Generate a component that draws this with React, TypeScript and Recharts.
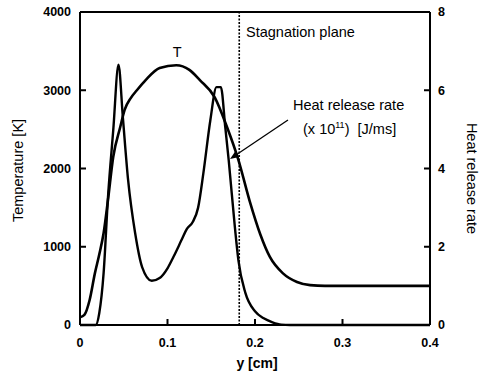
import { LineChart, Line, XAxis, YAxis, ReferenceLine, ReferenceDot } from 'recharts';

// position along the axis, y [cm]
const tempPos = [0, 0.005, 0.011, 0.017, 0.022, 0.027, 0.032, 0.038, 0.046, 0.051, 0.058, 0.065, 0.075, 0.091, 0.11, 0.125, 0.137, 0.154, 0.168, 0.181, 0.194, 0.206, 0.217, 0.232, 0.248, 0.263, 0.28, 0.3, 0.35, 0.4];
const temperature = [100, 130, 320, 660, 900, 1175, 1600, 2150, 2530, 2750, 2900, 3000, 3130, 3285, 3320, 3260, 3130, 2910, 2530, 2110, 1580, 1160, 870, 660, 550, 510, 500, 500, 500, 500];

const hrrPos = [0, 0.018, 0.022, 0.027, 0.032, 0.038, 0.044, 0.049, 0.055, 0.063, 0.071, 0.082, 0.091, 0.1, 0.107, 0.116, 0.122, 0.129, 0.135, 0.141, 0.149, 0.156, 0.161, 0.166, 0.17, 0.177, 0.181, 0.189, 0.2, 0.21, 0.22, 0.23, 0.24, 0.4];
const heatRelease = [0, 0, 0.3, 1.33, 3.27, 4.98, 6.65, 5.3, 3.7, 2.35, 1.48, 1.13, 1.2, 1.45, 1.75, 2.17, 2.45, 2.64, 3.0, 3.88, 5.24, 6.08, 6.08, 5.06, 4.2, 2.5, 1.66, 0.82, 0.35, 0.17, 0.07, 0.01, 0, 0];

const xTicks = [0, 0.1, 0.2, 0.3, 0.4];
const tempTicks = [0, 1000, 2000, 3000, 4000];
const hrrTicks = [0, 2, 4, 6, 8];

const stagnationPlane = 0.182;

const tempData = tempPos.map((x, i) => ({ x, v: temperature[i] }));
const hrrData = hrrPos.map((x, i) => ({ x, v: heatRelease[i] }));

const FONT = '"Liberation Sans", Arial, sans-serif';
const tickFont = { fontFamily: FONT, fontWeight: 'bold', fontSize: 12.5, fill: '#000' };
const axisLine = { stroke: '#000', strokeWidth: 2 };
const TICK_LEN = 6;

const BottomTick = (props: any) => {
  const { x, y, payload } = props;
  return (
    <text x={x} y={y + 18} textAnchor="middle" dominantBaseline="central" {...tickFont}>
      {payload.value}
    </text>
  );
};

// inward tick marks, drawn from the reference line geometry
// (left and right scales share tick rows: 1000 K <-> 2, 2000 K <-> 4, ...)
const sideTickMarks = (p: any) => {
  const xl = Math.min(p.x1, p.x2);
  const xr = Math.max(p.x1, p.x2);
  return (
    <g>
      <line x1={xl} x2={xl + TICK_LEN} y1={p.y1} y2={p.y1} stroke="#000" strokeWidth={2} />
      <line x1={xr - TICK_LEN} x2={xr} y1={p.y1} y2={p.y1} stroke="#000" strokeWidth={2} />
    </g>
  );
};
const bottomTickMark = (p: any) => {
  const yb = Math.max(p.y1, p.y2);
  return <line x1={p.x1} x2={p.x1} y1={yb} y2={yb - TICK_LEN} stroke="#000" strokeWidth={2} />;
};

const note = (content: React.ReactNode, anchor: 'start' | 'middle' = 'start') => (p: any) => (
  <text x={p.cx} y={p.cy} textAnchor={anchor} fontFamily={FONT} fontSize={14.5} fill="#000" xmlSpace="preserve">
    {content}
  </text>
);

const Arrow = (p: any) => {
  const { x1, y1, x2, y2 } = p;
  const ang = Math.atan2(y2 - y1, x2 - x1);
  const len = 9;
  const w = 3.5;
  const bx = x2 - len * Math.cos(ang);
  const by = y2 - len * Math.sin(ang);
  const nx = -Math.sin(ang) * w;
  const ny = Math.cos(ang) * w;
  return (
    <g>
      <line x1={x1} y1={y1} x2={bx} y2={by} stroke="#000" strokeWidth={1.3} />
      <polygon points={`${x2},${y2} ${bx + nx},${by + ny} ${bx - nx},${by - ny}`} fill="#000" />
    </g>
  );
};

export default function App() {
  return (
    <div style={{ position: 'absolute', left: 0, top: 0, background: '#fff' }}>
      <LineChart width={502} height={380} margin={{ top: 12, right: 0, bottom: 10, left: 0 }}>
        <XAxis
          type="number"
          dataKey="x"
          domain={[0, 0.4]}
          ticks={xTicks}
          height={45}
          tickSize={0}
          tickMargin={0}
          tickLine={false}
          tick={<BottomTick />}
          axisLine={axisLine}
          allowDuplicatedCategory={false}
          label={{
            content: ({ viewBox }: any) => (
              <text x={viewBox.x + viewBox.width / 2 + 2} y={viewBox.y + 38} textAnchor="middle" dominantBaseline="central" fontFamily={FONT} fontWeight="bold" fontSize={14} fill="#000">
                y [cm]
              </text>
            ),
          }}
        />
        <YAxis
          yAxisId="left"
          domain={[0, 4000]}
          ticks={tempTicks}
          width={80}
          tickSize={0}
          tickMargin={9}
          tickLine={false}
          tick={tickFont}
          axisLine={axisLine}
          label={{
            content: ({ viewBox }: any) => {
              const cx = viewBox.x + 18;
              const cy = viewBox.y + viewBox.height / 2 + 2;
              return (
                <text x={cx} y={cy} transform={`rotate(-90 ${cx} ${cy})`} textAnchor="middle" dominantBaseline="central" fontFamily={FONT} fontSize={14.5} fill="#000">
                  Temperature [K]
                </text>
              );
            },
          }}
        />
        <YAxis
          yAxisId="right"
          orientation="right"
          domain={[0, 8]}
          ticks={hrrTicks}
          width={72}
          tickSize={0}
          tickMargin={8}
          tickLine={false}
          tick={tickFont}
          axisLine={axisLine}
          label={{
            content: ({ viewBox }: any) => {
              const cx = viewBox.x + 42;
              const cy = viewBox.y + viewBox.height / 2 + 10;
              return (
                <text x={cx} y={cy} transform={`rotate(90 ${cx} ${cy})`} textAnchor="middle" dominantBaseline="central" fontFamily={FONT} fontSize={14.5} fill="#000">
                  Heat release rate
                </text>
              );
            },
          }}
        />
        <ReferenceLine yAxisId="left" y={4000} stroke="#000" strokeWidth={2} />
        {tempTicks.slice(1, -1).map((v) => (
          <ReferenceLine key={`st${v}`} yAxisId="left" y={v} shape={sideTickMarks} />
        ))}
        {xTicks.slice(1, -1).map((v) => (
          <ReferenceLine key={`bt${v}`} yAxisId="left" x={v} shape={bottomTickMark} />
        ))}
        <ReferenceLine yAxisId="left" x={stagnationPlane} stroke="#000" strokeWidth={1.6} strokeDasharray="2 1.5" />
        <Line
          yAxisId="left"
          data={tempData}
          dataKey="v"
          type="monotone"
          stroke="#000"
          strokeWidth={2.6}
          dot={false}
          isAnimationActive={false}
        />
        <Line
          yAxisId="right"
          data={hrrData}
          dataKey="v"
          type="monotone"
          stroke="#000"
          strokeWidth={2.4}
          dot={false}
          isAnimationActive={false}
        />
        <ReferenceLine
          yAxisId="left"
          segment={[{ x: 0.2377, y: 2620 }, { x: 0.1714, y: 2121 }]}
          shape={Arrow}
        />
        <ReferenceDot yAxisId="left" x={0.111} y={3425} shape={note('T', 'middle')} />
        <ReferenceDot yAxisId="left" x={0.1897} y={3680} shape={note('Stagnation plane')} />
        <ReferenceDot yAxisId="left" x={0.2434} y={2748} shape={note('Heat release rate')} />
        <ReferenceDot
          yAxisId="left"
          x={0.2549}
          y={2441}
          shape={note(
            <>
              <tspan>(x 10</tspan>
              <tspan dy={-6} fontSize={9}>11</tspan>
              <tspan dy={6}>)  [J/ms]</tspan>
            </>
          )}
        />
      </LineChart>
    </div>
  );
}
